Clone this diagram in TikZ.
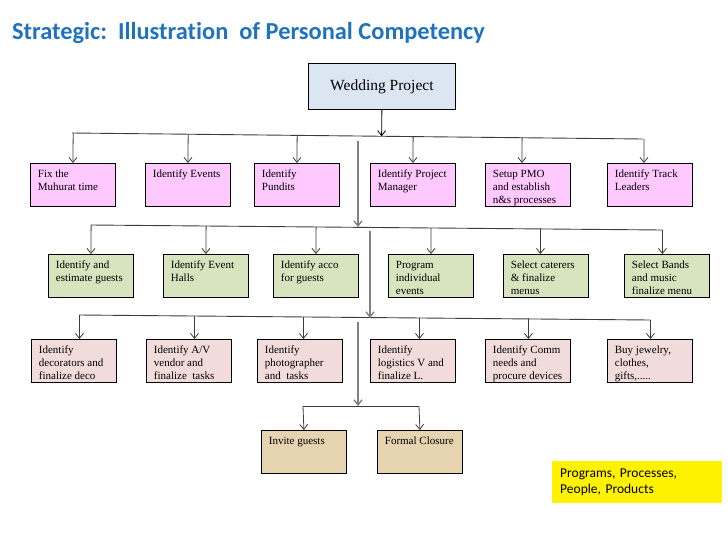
\documentclass[tikz,border=0pt]{standalone}
\usepackage{fontspec}
\setmainfont{Liberation Serif}
\newfontfamily\calibri[Ligatures=NoCommon]{Carlito}
\usepackage{xcolor}
\usetikzlibrary{arrows.meta,calc}

\definecolor{titleblue}{RGB}{31,115,190}
\definecolor{wpblue}{RGB}{220,230,242}
\definecolor{pinkfill}{RGB}{255,200,255}
\definecolor{greenfill}{RGB}{215,228,189}
\definecolor{rosefill}{RGB}{242,220,219}
\definecolor{tanfill}{RGB}{230,211,176}
\definecolor{linegray}{RGB}{60,60,60}
\definecolor{trunkgray}{RGB}{128,128,128}

\newcommand{\boxtext}[1]{\parbox[t][43pt][t]{70pt}{\vspace*{5.4pt}\fontsize{11}{13}\selectfont\strut #1}}

\tikzset{
  task/.style={draw=black, line width=0.8pt, anchor=north west, inner xsep=7.5pt, inner ysep=0pt},
  arr/.style={draw=linegray, line width=0.8pt, -{Straight Barb[length=5pt,width=8pt]}},
  bus/.style={draw=linegray, line width=0.9pt},
  trunk/.style={draw=trunkgray, line width=1.4pt, -{Straight Barb[length=5pt,width=8pt]}}
}

\begin{document}
\begin{tikzpicture}[x=1pt, y=-1pt]
\useasboundingbox (0,0) rectangle (728,546);

\node[anchor=base west, text=titleblue, font=\calibri\bfseries\fontsize{24.4}{28}\selectfont, inner sep=0pt] (title) at (12,39) {Strategic:\ \ Illustration\ \ of Personal Competency};

% top
\node[draw=black, line width=0.8pt, fill=wpblue, anchor=north west, minimum width=147pt, minimum height=46pt, inner sep=0pt, font=\fontsize{15.5}{18}\selectfont] (wp) at (308,63) {Wedding Project};

% buses
\coordinate (bus1L) at (72,133);  \coordinate (bus1R) at (643,139);
\coordinate (bus2L) at (91,225);  \coordinate (bus2R) at (662,230);
\coordinate (bus3L) at (79,315);  \coordinate (bus3R) at (650,320);
\coordinate (bus4L) at (303,406); \coordinate (bus4R) at (419,406);
\draw[bus] (bus1L) -- (bus1R);
\draw[bus] (bus2L) -- (bus2R);
\draw[bus] (bus3L) -- (bus3R);
\draw[bus] (bus4L) -- (bus4R);

\draw[arr, draw=black] (wp.south) -- ($(bus1L)!(wp.south)!(bus1R)$);

% trunk
\coordinate (t2a) at (358,141); \coordinate (t2b) at (358,227);
\coordinate (t3a) at (370,231); \coordinate (t3b) at (370,318);
\coordinate (t4a) at (358,322); \coordinate (t4b) at (358,406);
\draw[trunk] (t2a) -- (t2b);
\draw[trunk] (t3a) -- (t3b);
\draw[trunk] (t4a) -- (t4b);

% row 1
\foreach \n/\x/\dx/\txt in {1/30/0/{Fix the\\Muhurat time},
                           2/145/0/{Identify Events},
                           3/254/0/{Identify\\Pundits},
                           4/370/0/{Identify Project\\Manager},
                           5/485/-6/{Setup PMO\\and establish\\n\&s processes},
                           6/607/-6/{Identify Track\\Leaders}} {
  \node[task, fill=pinkfill] (a\n) at (\x,163) {\boxtext{\txt}};
  \coordinate (ta\n) at ([xshift=\dx]a\n.north);
  \draw[arr] ($(bus1L)!(ta\n)!(bus1R)$) -- (ta\n);
}

% row 2
\foreach \n/\x/\dx/\txt in {1/48/0/{Identify and\\estimate guests},
                           2/163/0/{Identify Event\\Halls},
                           3/273/0/{Identify acco\\for guests},
                           4/388/0/{Program\\individual\\events},
                           5/503/-5.5/{Select caterers\\\& finalize\\menus},
                           6/624/-4.5/{Select Bands\\and music\\finalize menu}} {
  \node[task, fill=greenfill] (b\n) at (\x,254) {\boxtext{\txt}};
  \coordinate (tb\n) at ([xshift=\dx]b\n.north);
  \draw[arr] ($(bus2L)!(tb\n)!(bus2R)$) -- (tb\n);
}

% row 3
\foreach \n/\x/\dx/\txt in {1/31/5.5/{Identify\\decorators and\\finalize deco},
                           2/146/5.5/{Identify A/V\\vendor and\\finalize\ \ tasks},
                           3/257/3.5/{Identify\\photographer\\and\ \ tasks},
                           4/370/6.5/{Identify\\logistics V and\\finalize L.},
                           5/485/0.5/{Identify Comm\\needs and\\procure devices},
                           6/607/0.5/{Buy jewelry,\\clothes,\\gifts,.....}} {
  \node[task, fill=rosefill] (c\n) at (\x,339) {\boxtext{\txt}};
  \coordinate (tc\n) at ([xshift=\dx]c\n.north);
  \draw[arr] ($(bus3L)!(tc\n)!(bus3R)$) -- (tc\n);
}

% closing
\foreach \n/\x/\txt in {1/261/{Invite guests}, 2/377/{Formal Closure}} {
  \node[task, fill=tanfill] (d\n) at (\x,430) {\boxtext{\txt}};
}
\draw[arr] (bus4L) -- (d1.north);
\draw[arr] (bus4R) -- (d2.north);

\node[fill=yellow, anchor=north west, minimum width=170pt, minimum height=42pt, text width=154pt, inner xsep=8pt, inner ysep=0pt, align=left, font=\calibri\fontsize{13.5}{15.5}\selectfont] (note) at (552,461) {Programs, Processes,\\People, Products};
\end{tikzpicture}
\end{document}
